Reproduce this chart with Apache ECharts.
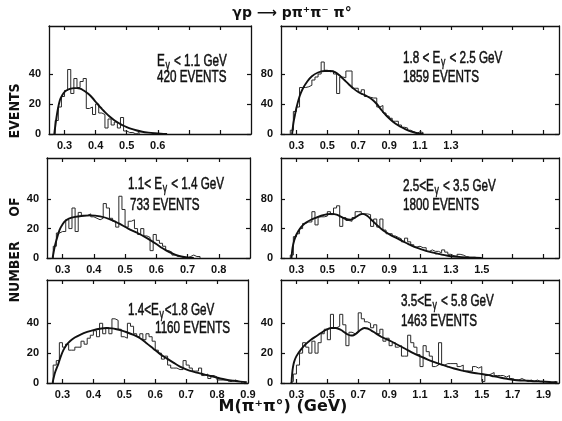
<!DOCTYPE html>
<html>
<head>
<meta charset="utf-8">
<script src="https://cdn.jsdelivr.net/npm/echarts@6/dist/echarts.min.js"></script>
<style>
  html, body { margin: 0; padding: 0; background: #fff; }
  #chart { width: 562px; height: 421px; }
</style>
</head>
<body>
<div id="chart"></div>
<script>
// ---- M(pi+ pi0) spectra for gamma p -> p pi+ pi- pi0, six photon-energy bins ----

// Energy-bin captions and event totals
const energyLabels = ['Eγ < 1.1 GeV', '1.8 < Eγ < 2.5 GeV', '1.1< Eγ < 1.4 GeV',
                      '2.5<Eγ < 3.5 GeV', '1.4<Eγ<1.8 GeV', '3.5<Eγ < 5.8 GeV'];
const eventCounts = [420, 1859, 733, 1800, 1160, 1463];

// Histogram counts per bin (first bin low edge, bin width in GeV)
const hist1Edge = 0.27, hist1Width = 0.01;
const hist1Counts = [9, 18, 25, 29, 43, 27, 37, 31, 35, 37, 17, 18, 13, 20, 14, 13, 4, 10, 6, 8,
                     4, 11, 2, 1, 1, 0, 1];

const hist2Edge = 0.26, hist2Width = 0.02;
const hist2Counts = [5, 30, 36, 62, 62, 63, 65, 72, 76, 80, 96, 85, 83, 84, 80, 54, 76, 75, 84, 84,
                     61, 61, 56, 59, 50, 49, 48, 48, 36, 38, 28, 24, 21, 17, 17, 12, 9, 8, 5, 3,
                     1, 3, 2];

const hist3Edge = 0.27, hist3Width = 0.01;
const hist3Counts = [8, 17, 18, 18, 26, 20, 34, 18, 31, 29, 29, 30, 28, 27, 26, 27, 37, 34, 27, 25,
                     21, 42, 33, 21, 25, 26, 20, 16, 20, 15, 14, 5, 16, 12, 10, 8, 5, 4, 2, 1,
                     1, 0, 0, 1, 2, 1, 1];

const hist4Edge = 0.26, hist4Width = 0.02;
const hist4Counts = [4, 29, 33, 40, 47, 49, 49, 63, 45, 56, 56, 57, 63, 59, 68, 71, 43, 55, 51, 50,
                     55, 63, 63, 60, 60, 59, 43, 53, 42, 53, 38, 33, 33, 30, 28, 26, 22, 27, 22, 18,
                     15, 16, 14, 14, 9, 11, 9, 9, 7, 11, 8, 5, 3, 2, 5, 4, 2, 1, 1, 1];

const hist5Edge = 0.27, hist5Width = 0.01;
const hist5Counts = [12, 15, 27, 24, 26, 22, 22, 24, 24, 28, 26, 30, 32, 35, 31, 40, 33, 37, 33, 43,
                     42, 36, 31, 30, 40, 38, 33, 31, 33, 29, 33, 31, 28, 22, 20, 16, 18, 12, 10, 10,
                     9, 9, 15, 12, 10, 8, 8, 10, 5, 6, 3, 5, 4, 2, 2, 2, 1, 1, 2, 1, 1];

const hist6Edge = 0.26, hist6Width = 0.02;
const hist6Counts = [1, 6, 12, 20, 27, 24, 20, 28, 20, 27, 33, 36, 29, 46, 37, 38, 46, 39, 25, 34,
                     33, 34, 47, 43, 41, 40, 37, 39, 33, 36, 28, 30, 25, 27, 24, 25, 18, 18, 32, 27,
                     24, 19, 11, 25, 21, 18, 11, 12, 27, 12, 13, 13, 13, 13, 11, 12, 8, 8, 8, 11,
                     10, 11, 1, 5, 6, 7, 5, 5, 5, 4, 5, 3, 2, 2, 3, 2, 1, 2, 1, 2, 1, 1, 1, 1, 0, 1];

// Fitted curves, [M (GeV), events per bin]
const curve1 = [[0.267, 0], [0.272, 8], [0.278, 16], [0.285, 22.5], [0.293, 26], [0.301, 28.3],
  [0.31, 29.5], [0.32, 30.3], [0.33, 30.6], [0.34, 30.6], [0.35, 30.2], [0.36, 29.2], [0.37, 27.8],
  [0.38, 26.2], [0.39, 24], [0.40, 21.5], [0.41, 19], [0.42, 16.8], [0.43, 14.6], [0.44, 12.6],
  [0.45, 10.8], [0.46, 9.2], [0.47, 7.8], [0.48, 6.6], [0.49, 5.5], [0.50, 4.6], [0.51, 3.8],
  [0.53, 2.5], [0.55, 1.5], [0.57, 0.9], [0.59, 0.5], [0.61, 0.2], [0.63, 0]];

const curve2 = [[0.272, 0], [0.28, 14], [0.29, 25], [0.30, 35], [0.32, 50], [0.34, 60], [0.37, 70],
  [0.40, 77], [0.44, 82], [0.48, 84], [0.52, 84], [0.55, 82.5], [0.58, 78], [0.61, 72], [0.64, 66],
  [0.67, 60.5], [0.70, 56], [0.73, 53], [0.76, 50], [0.79, 46], [0.82, 40], [0.85, 32], [0.88, 25],
  [0.91, 19], [0.94, 14], [0.97, 10], [1.00, 7], [1.03, 4.3], [1.06, 2.3], [1.09, 0.8], [1.12, 0]];

const curve3 = [[0.268, 0], [0.274, 7], [0.28, 12], [0.29, 19], [0.30, 23], [0.31, 25.5], [0.32, 26.8],
  [0.34, 28], [0.36, 28.6], [0.39, 29], [0.42, 28.3], [0.45, 26.5], [0.48, 23.5], [0.51, 20],
  [0.54, 17], [0.57, 13.5], [0.60, 9.5], [0.62, 6.6], [0.64, 4.2], [0.66, 2.3], [0.68, 1],
  [0.70, 0.3], [0.72, 0]];

const curve4 = [[0.268, 0], [0.275, 14], [0.286, 24], [0.30, 32], [0.33, 42], [0.36, 48], [0.394, 52],
  [0.43, 55], [0.46, 57.5], [0.50, 59.5], [0.53, 60], [0.56, 59], [0.59, 56], [0.62, 53], [0.65, 52],
  [0.68, 55], [0.71, 59], [0.73, 60], [0.76, 57], [0.79, 51], [0.82, 45], [0.85, 39.5], [0.88, 35],
  [0.91, 31], [0.95, 27], [0.98, 23.5], [1.02, 19.5], [1.06, 15.5], [1.10, 12.5], [1.15, 9],
  [1.20, 6.5], [1.24, 4.5], [1.28, 3], [1.32, 2], [1.37, 1.2], [1.42, 0.6], [1.50, 0]];

const curve5 = [[0.268, 0], [0.276, 7], [0.287, 13], [0.295, 18], [0.303, 22], [0.313, 25.5],
  [0.324, 28], [0.34, 30.5], [0.357, 32.3], [0.38, 34.2], [0.40, 35.4], [0.42, 36.3], [0.443, 36.8],
  [0.46, 36.6], [0.475, 36], [0.49, 35.2], [0.508, 34], [0.53, 32.2], [0.551, 30], [0.57, 27],
  [0.594, 23], [0.615, 19.5], [0.637, 16.5], [0.66, 13.5], [0.68, 11], [0.70, 9.2], [0.723, 7.6],
  [0.745, 6.4], [0.767, 5.3], [0.79, 4.1], [0.81, 3], [0.83, 2.2], [0.853, 1.5], [0.875, 0.9],
  [0.896, 0.5]];

const curve6 = [[0.268, 0], [0.272, 6], [0.278, 11], [0.286, 14.5], [0.30, 18], [0.33, 22.5],
  [0.36, 26], [0.394, 29], [0.43, 31.5], [0.459, 33.5], [0.49, 35.5], [0.524, 36.8], [0.555, 36.8],
  [0.589, 35.5], [0.61, 34], [0.632, 32.5], [0.653, 31.8], [0.67, 32], [0.686, 33], [0.71, 35.2],
  [0.74, 36.8], [0.76, 36.5], [0.783, 35.3], [0.81, 33.5], [0.848, 31], [0.89, 29], [0.934, 26.8],
  [0.98, 24.3], [1.02, 22], [1.06, 19.8], [1.107, 17.6], [1.15, 15.7], [1.193, 14], [1.24, 12.3],
  [1.279, 11], [1.32, 9.7], [1.366, 8.5], [1.41, 7.5], [1.452, 6.7], [1.50, 6], [1.538, 5.4],
  [1.58, 4.4], [1.625, 3.5], [1.67, 2.7], [1.711, 2], [1.75, 1.7], [1.798, 1.5], [1.84, 1.2],
  [1.884, 1], [1.94, 0.7], [1.99, 0.5]];

// Tick positions and labelled ticks
const xTicksNarrow = [0.3, 0.4, 0.5, 0.6, 0.7, 0.8];
const xTicksWide = [0.3, 0.5, 0.7, 0.9, 1.1, 1.3, 1.5, 1.7, 1.9];
const xLabels1 = [0.3, 0.4, 0.5, 0.6];
const xLabels2 = [0.3, 0.5, 0.7, 0.9, 1.1, 1.3];
const xLabels3 = [0.3, 0.4, 0.5, 0.6, 0.7, 0.8];
const xLabels4 = [0.3, 0.5, 0.7, 0.9, 1.1, 1.3, 1.5];
const xLabels5 = [0.3, 0.4, 0.5, 0.6, 0.7, 0.8, 0.9];
const xLabels6 = [0.3, 0.5, 0.7, 0.9, 1.1, 1.3, 1.5, 1.7, 1.9];
const yTicksSmall = [0, 20, 40];
const yTicksLarge = [0, 40, 80];

// ---- layout ----
const INK = '#111';
const NARROW = '"Liberation Sans", "DejaVu Sans", sans-serif';
const CAPTION_SQUEEZE = 0.73;

const panels = [
  { box: { left: 49, top: 26, width: 202, height: 108 }, x: [0.25, 0.9], yMax: 72,
    counts: hist1Counts, edge: hist1Edge, bw: hist1Width, curve: curve1,
    xTicks: xTicksNarrow, xLabels: xLabels1, yTicks: yTicksSmall, text: [157, 62, 157, 78] },
  { box: { left: 281, top: 26, width: 278, height: 108 }, x: [0.2, 2.0], yMax: 144,
    counts: hist2Counts, edge: hist2Edge, bw: hist2Width, curve: curve2,
    xTicks: xTicksWide, xLabels: xLabels2, yTicks: yTicksLarge, text: [403, 59, 403, 78] },
  { box: { left: 47, top: 158, width: 203, height: 100 }, x: [0.25, 0.9], yMax: 68,
    counts: hist3Counts, edge: hist3Edge, bw: hist3Width, curve: curve3,
    xTicks: xTicksNarrow, xLabels: xLabels3, yTicks: yTicksSmall, text: [128, 185, 130, 206] },
  { box: { left: 281, top: 158, width: 278, height: 100 }, x: [0.2, 2.0], yMax: 136,
    counts: hist4Counts, edge: hist4Edge, bw: hist4Width, curve: curve4,
    xTicks: xTicksWide, xLabels: xLabels4, yTicks: yTicksLarge, text: [403, 187, 403, 206] },
  { box: { left: 47, top: 280, width: 201, height: 103 }, x: [0.25, 0.9], yMax: 69,
    counts: hist5Counts, edge: hist5Edge, bw: hist5Width, curve: curve5,
    xTicks: xTicksNarrow, xLabels: xLabels5, yTicks: yTicksSmall, text: [128, 311, 155, 329] },
  { box: { left: 281, top: 280, width: 278, height: 103 }, x: [0.2, 2.0], yMax: 69,
    counts: hist6Counts, edge: hist6Edge, bw: hist6Width, curve: curve6,
    xTicks: xTicksWide, xLabels: xLabels6, yTicks: yTicksSmall, text: [401, 302, 401, 322] }
];

// Outline of a histogram as a stepped polyline
function histOutline(edge, width, counts) {
  const pts = [[edge, 0]];
  counts.forEach((c, i) => pts.push([+(edge + i * width).toFixed(4), c]));
  const end = +(edge + counts.length * width).toFixed(4);
  pts.push([end, counts[counts.length - 1]]);
  pts.push([end, 0]);
  return pts;
}

const lineStyle = { color: INK, width: 1.3 };
const tickStyle = { inside: true, length: 4, lineStyle: { color: INK, width: 1.2 } };
const labelStyle = { color: INK, fontFamily: NARROW, fontWeight: 'bold', fontSize: 11 };

const grid = [], xAxis = [], yAxis = [], series = [];
panels.forEach((p, i) => {
  grid.push(Object.assign({ containLabel: false }, p.box));
  xAxis.push({
    type: 'value', gridIndex: i, position: 'bottom', min: p.x[0], max: p.x[1],
    axisLine: { onZero: false, lineStyle }, splitLine: { show: false },
    axisTick: Object.assign({ customValues: p.xTicks }, tickStyle),
    axisLabel: Object.assign({ customValues: p.xLabels, margin: 6,
      formatter: v => v.toFixed(1) }, labelStyle)
  });
  xAxis.push({
    type: 'value', gridIndex: i, position: 'top', min: p.x[0], max: p.x[1],
    axisLine: { onZero: false, lineStyle }, splitLine: { show: false },
    axisTick: Object.assign({ customValues: p.xTicks }, tickStyle),
    axisLabel: { show: false }
  });
  yAxis.push({
    type: 'value', gridIndex: i, position: 'left', min: 0, max: p.yMax,
    axisLine: { show: true, onZero: false, lineStyle }, splitLine: { show: false },
    axisTick: Object.assign({ customValues: p.yTicks }, tickStyle),
    axisLabel: Object.assign({ customValues: p.yTicks, margin: 8 }, labelStyle)
  });
  yAxis.push({
    type: 'value', gridIndex: i, position: 'right', min: 0, max: p.yMax,
    axisLine: { show: true, onZero: false, lineStyle }, splitLine: { show: false },
    axisTick: Object.assign({ customValues: p.yTicks }, tickStyle),
    axisLabel: { show: false }
  });
  series.push({
    type: 'line', xAxisIndex: 2 * i, yAxisIndex: 2 * i, step: 'end',
    data: histOutline(p.edge, p.bw, p.counts), showSymbol: false, silent: true,
    lineStyle: { color: '#2a2a2a', width: 1 }
  });
  series.push({
    type: 'line', xAxisIndex: 2 * i, yAxisIndex: 2 * i, smooth: 0.3,
    data: p.curve, showSymbol: false, silent: true,
    lineStyle: { color: INK, width: 1.9 }
  });
});

// Captions inside each panel
function richCaption(label) {
  const parts = label.split('γ');
  return '{t|' + parts[0] + '}{s|γ}{t|' + parts[1] + '}';
}
const captionRich = {
  t: { fontFamily: NARROW, fontSize: 16, fill: INK, stroke: INK, lineWidth: 0.5 },
  s: { fontFamily: NARROW, fontSize: 12, fill: INK, stroke: INK, lineWidth: 0.4,
       padding: [7, 1, 0, 1] }
};
const graphic = [];
panels.forEach((p, i) => {
  graphic.push({ type: 'text', x: p.text[0], y: p.text[1], scaleX: CAPTION_SQUEEZE,
    style: { text: richCaption(energyLabels[i]), rich: captionRich,
             verticalAlign: 'middle', align: 'left' } });
  graphic.push({ type: 'text', x: p.text[2], y: p.text[3], scaleX: CAPTION_SQUEEZE,
    style: { text: eventCounts[i] + ' EVENTS', fontFamily: NARROW, fontSize: 16, fill: INK,
             stroke: INK, lineWidth: 0.5, verticalAlign: 'middle', align: 'left' } });
});

// Reaction title and axis titles
graphic.push({ type: 'text', x: 292, y: 13,
  style: { text: 'γp ⟶ pπ⁺π⁻ π°', font: 'bold 14px "DejaVu Sans", sans-serif', fill: INK,
           align: 'center', verticalAlign: 'middle' } });
graphic.push({ type: 'text', x: 283, y: 407,
  style: { text: 'M(π⁺π°) (GeV)', font: 'bold 16px "DejaVu Sans", sans-serif', fill: INK,
           align: 'center', verticalAlign: 'middle' } });
[['EVENTS', 111], ['OF', 207], ['NUMBER', 272]].forEach(([word, cy]) => {
  graphic.push({ type: 'text', x: 15, y: cy, rotation: Math.PI / 2, scaleX: 0.9,
    style: { text: word, font: 'bold 14px "DejaVu Sans", sans-serif',
             fill: INK, align: 'center', verticalAlign: 'middle' } });
});

const chart = echarts.init(document.getElementById('chart'), null, { renderer: 'canvas' });
chart.setOption({
  backgroundColor: '#fff',
  animation: false,
  grid, xAxis, yAxis, series, graphic
});
</script>
</body>
</html>
